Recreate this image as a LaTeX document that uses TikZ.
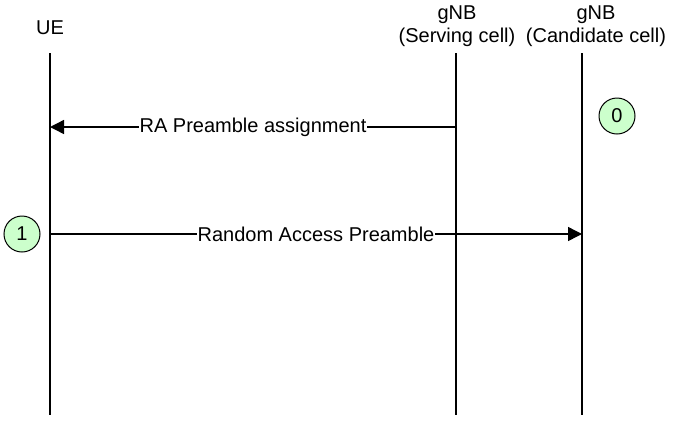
\documentclass[tikz,border=0pt]{standalone}
\usepackage{fontspec}
\setmainfont{Liberation Sans}
\usetikzlibrary{arrows.meta}
\begin{document}
\begin{tikzpicture}[x=1pt,y=-1pt,
  txt/.style={font=\fontsize{20}{23}\selectfont, inner sep=1pt, text=black},
  life/.style={line width=1.4pt, black},
  msg/.style={line width=1.4pt, black, -{Triangle[length=14pt,width=14pt]}},
  lbl/.style={txt, fill=white, inner sep=0.5pt},
  stepcirc/.style={circle, draw=black, line width=1pt, fill={rgb,255:red,204;green,255;blue,204}, minimum size=36pt, inner sep=0pt, font=\fontsize{20}{23}\selectfont}]
\useasboundingbox (0,0) rectangle (693,424);
% headers
\node[txt] (ue) at (50,28) {UE};
\node[txt, align=center] (sv) at (457,26) {gNB\\(Serving cell)};
\node[txt, align=center] (cd) at (596,26) {gNB\\(Candidate cell)};
% lifelines
\coordinate (ueT) at (50,53); \coordinate (ueB) at (50,415);
\coordinate (svT) at (456,53); \coordinate (svB) at (456,415);
\coordinate (cdT) at (582,53); \coordinate (cdB) at (582,415);
\draw[life] (ueT) -- (ueB);
\draw[life] (svT) -- (svB);
\draw[life] (cdT) -- (cdB);
% messages
\coordinate (m1s) at (456,127); \coordinate (m1e) at (50,127);
\draw[msg] (m1s) -- (m1e);
\node[lbl] (l1) at (253,127) {RA Preamble assignment};
\coordinate (m2s) at (50,234); \coordinate (m2e) at (582,234);
\draw[msg] (m2s) -- (m2e);
\node[lbl] (l2) at (316,234) {Random Access Preamble};
% step circles
\node[stepcirc] (c0) at (617,116) {0};
\node[stepcirc] (c1) at (22,234) {1};
\end{tikzpicture}
\end{document}
